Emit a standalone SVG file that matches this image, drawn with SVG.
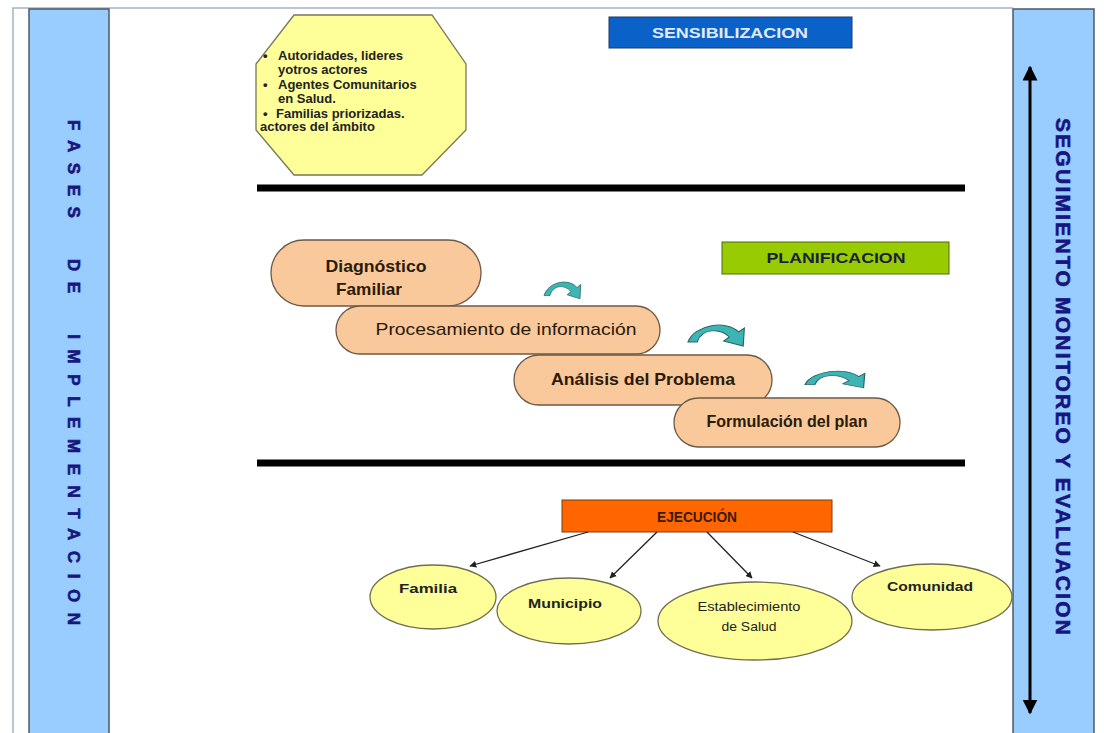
<svg xmlns="http://www.w3.org/2000/svg" width="1104" height="733" viewBox="0 0 1104 733">
<defs>
<style>
.panel{fill:#99ccff;stroke:#4d5866;stroke-width:1.5}
.vt{font-family:"Liberation Sans",Arial,sans-serif;font-weight:bold;fill:#16167e;stroke:#16167e;stroke-width:0.6}
.oct{fill:#ffff99;stroke:#77775a;stroke-width:1.3}
.ot{font-family:"Liberation Sans",Arial,sans-serif;font-weight:bold;font-size:13px;fill:#222}
.pill{fill:#f9c99b;stroke:#6b5a48;stroke-width:1.3}
.pt{font-family:"Liberation Sans",Arial,sans-serif;font-size:17px;fill:#2a1a0a;text-anchor:middle}
.b{font-weight:bold}
.ell{fill:#ffff99;stroke:#6f6f50;stroke-width:1.3}
.et{font-family:"Liberation Sans",Arial,sans-serif;font-size:13px;fill:#222;text-anchor:middle}
.hd{font-family:"Liberation Sans",Arial,sans-serif;font-weight:bold;font-size:14px;text-anchor:middle}
.sep{stroke:#000;stroke-width:7}
.con{stroke:#222;stroke-width:1.3;fill:none;marker-end:url(#ah)}
.ca{fill:#3db5b5;stroke:#2a6666;stroke-width:1}
</style>
<marker id="ah" viewBox="0 0 10 10" refX="9" refY="5" markerWidth="7" markerHeight="7" orient="auto" markerUnits="userSpaceOnUse">
<path d="M0,0 L10,5 L0,10 Z" fill="#222"/>
</marker>
<marker id="big" viewBox="0 0 10 10" refX="9" refY="5" markerWidth="5" markerHeight="5" orient="auto-start-reverse">
<path d="M0,0 L10,5 L0,10 Z" fill="#000"/>
</marker>
<path id="curl" d="M0,22 C6,4 34,0 44,12 L49,8 L48,26 L31,21 L36,17 C28,8 12,8 8,22 Z"/>
</defs>
<rect width="1104" height="733" fill="#fff"/>
<path d="M13,733 V8 H1013" fill="none" stroke="#a4b4c4" stroke-width="1.5"/>

<g id="fases">
<rect class="panel" x="29" y="9" width="80" height="730"/>
<text class="vt" font-size="17" transform="translate(68,120) rotate(90)" textLength="505" lengthAdjust="spacing" xml:space="preserve">FASES  DE  IMPLEMENTACION</text>
</g>

<g id="seguimiento">
<rect class="panel" x="1013" y="9" width="81" height="730"/>
<line x1="1030" y1="67" x2="1030" y2="713" stroke="#000" stroke-width="3" marker-start="url(#big)" marker-end="url(#big)"/>
<text class="vt" font-size="21" transform="translate(1056,118) rotate(90)" textLength="517" lengthAdjust="spacing">SEGUIMIENTO MONITOREO Y EVALUACION</text>
</g>

<g id="actores">
<polygon class="oct" points="294,15 432,15 466,64 466,130 422,175 294,175 256,130 256,64"/>
<text class="ot"><tspan x="263" y="60">•</tspan><tspan x="278" y="60">Autoridades, lideres</tspan><tspan x="278" y="74">yotros actores</tspan><tspan x="263" y="89">•</tspan><tspan x="278" y="89">Agentes Comunitarios</tspan><tspan x="278" y="103">en Salud.</tspan><tspan x="263" y="118">•</tspan><tspan x="276" y="118">Familias priorizadas.</tspan><tspan x="260" y="131">actores del ámbito</tspan></text>
</g>

<g id="sensibilizacion">
<rect x="609" y="17" width="243" height="31" fill="#0a62c8" stroke="#1a3a70" stroke-width="1"/>
<text class="hd" x="730" y="38" fill="#e2ebfa" textLength="156" lengthAdjust="spacingAndGlyphs">SENSIBILIZACION</text>
</g>

<line class="sep" x1="257" y1="188" x2="965" y2="188"/>

<g id="planificacion">
<rect x="722" y="242" width="227" height="32" fill="#99cc00" stroke="#4a6a10" stroke-width="1"/>
<text class="hd" x="836" y="263" fill="#1a1f40" textLength="139" lengthAdjust="spacingAndGlyphs">PLANIFICACION</text>
</g>

<g id="diagnostico">
<rect class="pill" x="271" y="240" width="210" height="66" rx="33"/>
<text class="pt b" x="376" y="272" textLength="101" lengthAdjust="spacingAndGlyphs">Diagnóstico</text>
<text class="pt b" x="369" y="295" textLength="66" lengthAdjust="spacingAndGlyphs">Familiar</text>
</g>
<g id="procesamiento">
<rect class="pill" x="336" y="306" width="324" height="48" rx="24"/>
<text class="pt" x="506" y="335" textLength="261" lengthAdjust="spacingAndGlyphs">Procesamiento de información</text>
</g>
<g id="analisis">
<rect class="pill" x="514" y="355" width="258" height="50" rx="25"/>
<text class="pt b" x="643" y="385" textLength="184" lengthAdjust="spacingAndGlyphs">Análisis del Problema</text>
</g>
<g id="formulacion">
<rect class="pill" x="674" y="398" width="226" height="49" rx="24.5"/>
<text class="pt b" x="787" y="427" font-size="14" textLength="161" lengthAdjust="spacingAndGlyphs">Formulación del plan</text>
</g>

<g id="curl-arrows">
<use href="#curl" class="ca" transform="translate(544,278) scale(0.75,0.8)"/>
<use href="#curl" class="ca" transform="translate(688,320) scale(1.15,1.0)"/>
<use href="#curl" class="ca" transform="translate(805,367) scale(1.22,0.8)"/>
</g>

<line class="sep" x1="257" y1="463" x2="965" y2="463"/>

<g id="ejecucion">
<rect x="562" y="500" width="270" height="32" fill="#ff6600" stroke="#7a3a10" stroke-width="1"/>
<text class="hd" x="697" y="522" fill="#3a1a0a" font-size="15" textLength="80" lengthAdjust="spacingAndGlyphs">EJECUCIÓN</text>
</g>

<g id="connectors">
<line class="con" x1="588" y1="532" x2="470" y2="566"/>
<line class="con" x1="657" y1="532" x2="610" y2="578"/>
<line class="con" x1="707" y1="532" x2="752" y2="578"/>
<line class="con" x1="793" y1="532" x2="880" y2="566"/>
</g>

<g id="familia">
<ellipse class="ell" cx="433" cy="597" rx="63" ry="32"/>
<text class="et b" x="428" y="593" font-size="15" textLength="58" lengthAdjust="spacingAndGlyphs">Familia</text>
</g>
<g id="municipio">
<ellipse class="ell" cx="569" cy="611" rx="72" ry="33"/>
<text class="et b" x="565" y="608" font-size="14" textLength="74" lengthAdjust="spacingAndGlyphs">Municipio</text>
</g>
<g id="establecimiento">
<ellipse class="ell" cx="755" cy="621" rx="97" ry="39"/>
<text class="et" x="749" y="611" textLength="103" lengthAdjust="spacingAndGlyphs">Establecimiento</text>
<text class="et" x="749" y="631" textLength="55" lengthAdjust="spacingAndGlyphs">de Salud</text>
</g>
<g id="comunidad">
<ellipse class="ell" cx="932" cy="597" rx="80" ry="33"/>
<text class="et b" x="930" y="591" font-size="14" textLength="86" lengthAdjust="spacingAndGlyphs">Comunidad</text>
</g>
</svg>
